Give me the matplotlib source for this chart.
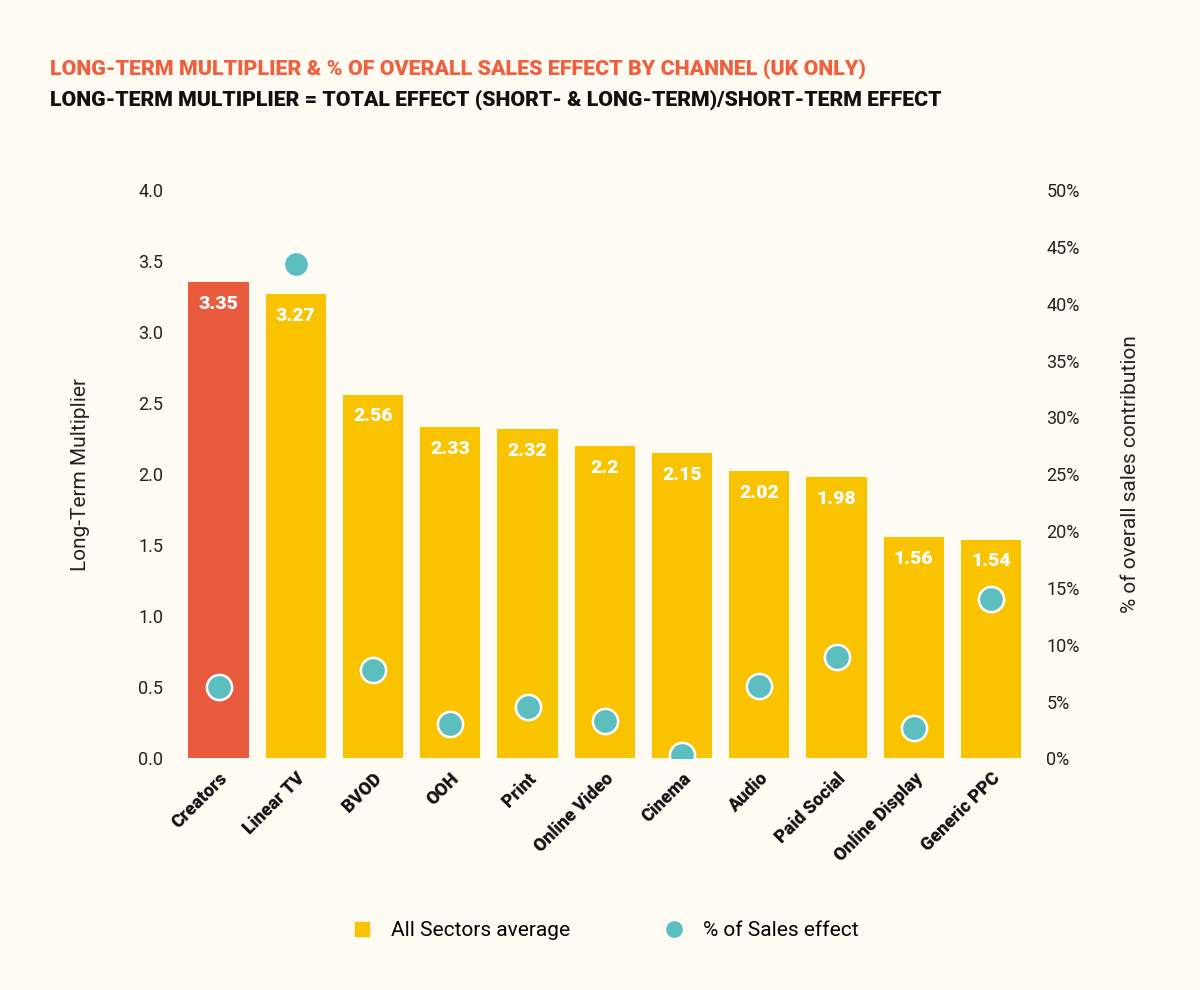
import matplotlib
matplotlib.use("Agg")
import matplotlib.pyplot as plt
import numpy as np

channels = ["Creators", "Linear TV", "BVOD", "OOH", "Print", "Online Video",
            "Cinema", "Audio", "Paid Social", "Online Display", "Generic PPC"]
multiplier = [3.35, 3.27, 2.56, 2.33, 2.32, 2.2, 2.15, 2.02, 1.98, 1.56, 1.54]
sales_pct = [6.25, 43.5, 7.75, 3.0, 4.5, 3.25, 0.3, 6.4, 8.9, 2.7, 14.0]

BG = "#FEFBF3"
RED = "#EA5A3C"
YELLOW = "#F9C300"
TEAL = "#5DBEC0"

plt.rcParams["font.family"] = ["Roboto", "DejaVu Sans"]
fig = plt.figure(figsize=(12, 9.9), dpi=100, facecolor=BG)
ax = fig.add_axes([0.15, 0.234, 0.708, 0.574], facecolor=BG)
x = np.arange(len(channels))
colors = [RED] + [YELLOW] * (len(channels) - 1)
ax.bar(x, multiplier, width=0.78, color=colors, zorder=1)
for xi, v in zip(x, multiplier):
    ax.text(xi, v - 0.09, f"{v:g}", ha="center", va="top", color="white",
            fontsize=14, fontweight="heavy", zorder=3)
ax.set_ylim(0, 4.0)
ax.set_xlim(-0.5, len(channels) - 0.5)
ax.set_yticks(np.arange(0, 4.01, 0.5))
ax.set_yticklabels([f"{t:.1f}" for t in np.arange(0, 4.01, 0.5)])
ax.set_xticks(x)
ax.set_xticklabels(channels, rotation=45, ha="right", rotation_mode="anchor",
                   fontsize=16, fontweight="heavy", color="#111111")
ax.tick_params(length=0, labelsize=13, colors="#222222", pad=12)
ax.tick_params(axis="x", pad=8, colors="#111111")
ax.set_ylabel("Long-Term Multiplier", fontsize=15, labelpad=35, color="#222222")
for s in ax.spines.values():
    s.set_visible(False)

ax2 = ax.twinx()
ax2.set_ylim(0, 50)
ax2.set_yticks(np.arange(0, 51, 5))
ax2.set_yticklabels([f"{t}%" for t in range(0, 51, 5)])
ax2.scatter(x, sales_pct, s=330, color=TEAL, edgecolor="white", linewidth=1.8, zorder=4)
ax2.tick_params(length=0, labelsize=13, colors="#222222", pad=12)
ax2.set_ylabel("% of overall sales contribution", fontsize=15, labelpad=30,
               color="#222222", rotation=90)
for s in ax2.spines.values():
    s.set_visible(False)

fig.text(0.042, 0.925, "LONG-TERM MULTIPLIER & % OF OVERALL SALES EFFECT BY CHANNEL (UK ONLY)",
         fontsize=15.4, fontweight="heavy", color="#F0603F")
fig.text(0.042, 0.893, "LONG-TERM MULTIPLIER = TOTAL EFFECT (SHORT- & LONG-TERM)/SHORT-TERM EFFECT",
         fontsize=15.3, fontweight="heavy", color="#111111")

h1 = plt.Line2D([], [], marker="s", ls="", color=YELLOW, markersize=10)
h2 = plt.Line2D([], [], marker="o", ls="", color=TEAL, markersize=11)
fig.legend([h1, h2], ["All Sectors average", "% of Sales effect"], loc="center",
           bbox_to_anchor=(0.5, 0.06), ncol=2, frameon=False, fontsize=15,
           columnspacing=4, handletextpad=0.4)

fig.savefig("out.png", dpi=100, facecolor=BG)
